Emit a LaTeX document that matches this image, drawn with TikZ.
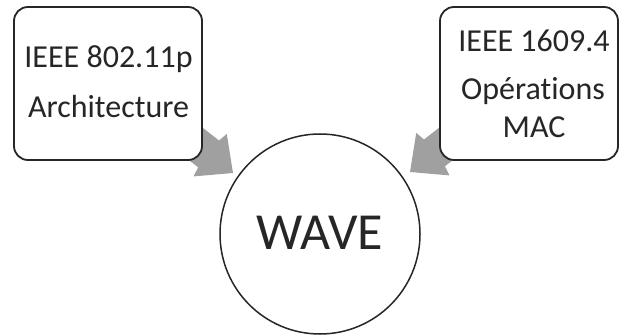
\documentclass[tikz,border=0pt]{standalone}
\usepackage{fontspec}
\setmainfont[Ligatures=NoCommon]{Carlito}
\definecolor{arrowgray}{RGB}{160,160,160}
\definecolor{inkdark}{RGB}{38,38,38}
\tikzset{
  infobox/.style={draw=inkdark, line width=1.8pt, fill=white, rounded corners=14pt,
    inner sep=0pt, minimum width=188pt, minimum height=153pt},
  rightbox/.style={infobox, minimum width=178pt},
  boxtext/.style={anchor=base, inner sep=0pt, text=inkdark,
    font=\fontsize{32}{38}\selectfont},
  hub/.style={circle, draw=inkdark, line width=1.5pt, fill=white, minimum size=200pt, inner sep=0pt},
  hubtext/.style={anchor=base, inner sep=0pt, text=inkdark,
    font=\fontsize{52}{60}\selectfont},
  blockarrow/.style={fill=arrowgray, draw=none}
}
\begin{document}
\begin{tikzpicture}[x=1pt, y=-1pt]
\useasboundingbox (0,0) rectangle (620,336);

% arrow tips, where the two block arrows end
\coordinate (tipL) at (233,173);
\coordinate (tipR) at (410,172);

% block arrows (tails hidden under the boxes)
\fill[blockarrow, shift={(tipL)}, rotate=-38]
  (0,0) -- (-29,-27) -- (-31,-17) -- (-80,-17) -- (-80,17) -- (-31,17) -- (-29,27) -- cycle;
\fill[blockarrow, shift={(tipR)}, rotate=218]
  (0,0) -- (-29,-27) -- (-31,-17) -- (-80,-17) -- (-80,17) -- (-31,17) -- (-29,27) -- cycle;

% the two source boxes
\node[infobox]  (phy) at (108,83.5) {};
\node[rightbox] (mac) at (529,83.5) {};

\node[boxtext] (phy1) at (108.5,68) {IEEE 802.11p};
\node[boxtext] (phy2) at (108.5,118) {Architecture};

\node[boxtext] (mac1) at (534,52) {IEEE 1609.4};
\node[boxtext] (mac2) at (533,100) {Opérations};
\node[boxtext] (mac3) at (534,138) {MAC};

% the central circle
\node[hub] (wave) at (320,234) {};
\node[hubtext] (wavetext) at (320,250) {WAVE};
\end{tikzpicture}
\end{document}
